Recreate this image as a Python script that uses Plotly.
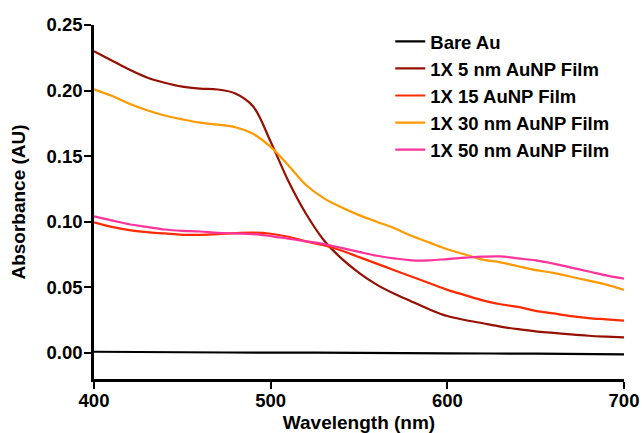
import plotly.graph_objects as go

# Wavelength grid (nm) for the absorbance spectra
wavelength = list(range(400, 701, 10))

bare_wl = [400, 450, 500, 550, 600, 650, 700]
bare_au = [0.0008, 0.0004, 0.0001, 0.0000, -0.0004, -0.0007, -0.0012]

auNP_5nm = [0.230, 0.223, 0.216, 0.210, 0.206, 0.203, 0.2015, 0.2008, 0.1978, 0.188,
            0.161, 0.131, 0.106, 0.086, 0.072, 0.061, 0.052, 0.045, 0.039, 0.033,
            0.028, 0.025, 0.0225, 0.020, 0.018, 0.0163, 0.0152, 0.014, 0.013, 0.0123,
            0.0117]

auNP_15nm = [0.0995, 0.096, 0.0935, 0.092, 0.091, 0.090, 0.090, 0.0905, 0.0913, 0.0916,
             0.0908, 0.0885, 0.085, 0.082, 0.078, 0.073, 0.068, 0.063, 0.058, 0.053,
             0.048, 0.044, 0.040, 0.037, 0.035, 0.032, 0.030, 0.028, 0.0265, 0.0255,
             0.0245]

auNP_30nm = [0.201, 0.196, 0.190, 0.185, 0.181, 0.178, 0.1755, 0.174, 0.172, 0.167,
             0.157, 0.143, 0.128, 0.118, 0.111, 0.105, 0.100, 0.095, 0.089, 0.084,
             0.079, 0.075, 0.071, 0.069, 0.066, 0.063, 0.061, 0.058, 0.055, 0.052,
             0.048]

auNP_50nm = [0.104, 0.101, 0.098, 0.096, 0.094, 0.093, 0.0925, 0.0915, 0.091, 0.0905,
             0.089, 0.087, 0.085, 0.083, 0.080, 0.077, 0.074, 0.072, 0.0705, 0.0705,
             0.0715, 0.0725, 0.0733, 0.0735, 0.072, 0.0705, 0.068, 0.065, 0.062, 0.059,
             0.0565]

y_ticks = [0.00, 0.05, 0.10, 0.15, 0.20, 0.25]
x_ticks = [400, 500, 600, 700]

FONT = "Arial, Liberation Sans, sans-serif"

series = [
    ("Bare Au", bare_wl, bare_au, "#000000"),
    ("1X 5 nm AuNP Film", wavelength, auNP_5nm, "#951000"),
    ("1X 15 AuNP Film", wavelength, auNP_15nm, "#FF2A00"),
    ("1X 30 nm AuNP Film", wavelength, auNP_30nm, "#FF9900"),
    ("1X 50 nm AuNP Film", wavelength, auNP_50nm, "#FF3399"),
]

fig = go.Figure()
for name, xs, ys, color in series:
    fig.add_trace(go.Scatter(
        x=xs, y=ys, name=name, mode="lines",
        line=dict(color=color, width=2.2, shape="spline", smoothing=1.0),
    ))

axis_common = dict(
    showline=True, linecolor="black", linewidth=2.5,
    ticks="outside", ticklen=7, tickwidth=2, tickcolor="black",
    showgrid=False, zeroline=False, automargin=False,
    tickfont=dict(family=FONT, size=18.5, color="black", weight="bold"),
)

fig.update_layout(
    width=642, height=433,
    margin=dict(l=94, r=18, t=25, b=54),
    plot_bgcolor="white", paper_bgcolor="white",
    xaxis=dict(
        range=[400, 700], tickvals=x_ticks, ticklabelstandoff=-4,
        title=dict(text="Wavelength (nm)", standoff=6,
                   font=dict(family=FONT, size=19, color="black", weight="bold")),
        **axis_common,
    ),
    yaxis=dict(
        range=[-0.02, 0.25], tickvals=y_ticks, tickformat=".2f", ticklabelstandoff=-2,
        title=dict(text="Absorbance (AU)", standoff=16,
                   font=dict(family=FONT, size=19, color="black", weight="bold")),
        **axis_common,
    ),
    legend=dict(
        x=0.559, y=1.006, xanchor="left", yanchor="top",
        bgcolor="rgba(0,0,0,0)", tracegroupgap=0,
        font=dict(family=FONT, size=18.5, color="black", weight="bold"),
        itemwidth=30,
    ),
)

fig.write_html("out.html")
